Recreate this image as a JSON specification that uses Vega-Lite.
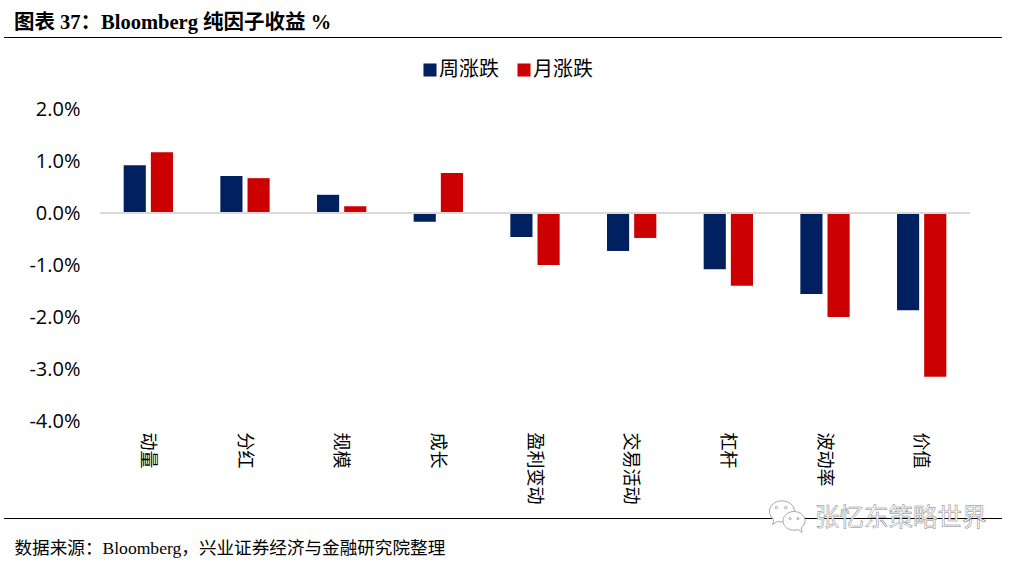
{
  "$schema": "https://vega.github.io/schema/vega-lite/v6.json",
  "description": "Bloomberg pure factor returns, weekly and monthly",
  "autosize": "none",
  "padding": {"left": 100, "top": 109, "right": 52, "bottom": 141},
  "width": 870,
  "height": 312,
  "background": "white",
  "title": {
    "text": "图表 37：Bloomberg 纯因子收益  %",
    "anchor": "start",
    "frame": "group",
    "dx": -86,
    "offset": -12,
    "baseline": "alphabetic",
    "font": "Liberation Serif, Noto Sans CJK SC",
    "fontSize": 20.5,
    "fontWeight": "bold",
    "color": "black"
  },
  "data": {
    "values": [
      {"factor": "动量", "series": "周涨跌", "ret": 0.92},
      {"factor": "动量", "series": "月涨跌", "ret": 1.17},
      {"factor": "分红", "series": "周涨跌", "ret": 0.71},
      {"factor": "分红", "series": "月涨跌", "ret": 0.67},
      {"factor": "规模", "series": "周涨跌", "ret": 0.35},
      {"factor": "规模", "series": "月涨跌", "ret": 0.13},
      {"factor": "成长", "series": "周涨跌", "ret": -0.17},
      {"factor": "成长", "series": "月涨跌", "ret": 0.77},
      {"factor": "盈利变动", "series": "周涨跌", "ret": -0.46},
      {"factor": "盈利变动", "series": "月涨跌", "ret": -1.0},
      {"factor": "交易活动", "series": "周涨跌", "ret": -0.73},
      {"factor": "交易活动", "series": "月涨跌", "ret": -0.48},
      {"factor": "杠杆", "series": "周涨跌", "ret": -1.08},
      {"factor": "杠杆", "series": "月涨跌", "ret": -1.4},
      {"factor": "波动率", "series": "周涨跌", "ret": -1.56},
      {"factor": "波动率", "series": "月涨跌", "ret": -2.0},
      {"factor": "价值", "series": "周涨跌", "ret": -1.87},
      {"factor": "价值", "series": "月涨跌", "ret": -3.15}
    ]
  },
  "layer": [
    {
      "mark": {"type": "bar"},
      "encoding": {
        "x": {
          "field": "factor",
          "type": "nominal",
          "sort": null,
          "scale": {"paddingInner": 0.49, "paddingOuter": 0.245},
          "axis": {
            "orient": "bottom",
            "title": "数据来源：Bloomberg，兴业证券经济与金融研究院整理",
            "titleX": -86,
            "titleY": 132,
            "titleAlign": "left",
            "titleBaseline": "alphabetic",
            "titleFont": "Liberation Serif, Noto Sans CJK SC",
            "titleFontSize": 17.6,
            "titleFontWeight": "normal",
            "titleColor": "black",
            "labelAngle": 90,
            "labelAlign": "left",
            "labelBaseline": "middle",
            "labelPadding": 11,
            "labelOffset": -1.5,
            "labelFont": "Noto Sans CJK SC",
            "labelFontSize": 18,
            "labelColor": "black",
            "domain": false,
            "ticks": false
          }
        },
        "xOffset": {
          "field": "series",
          "type": "nominal",
          "scale": {"domain": ["周涨跌", "月涨跌"], "paddingInner": 0.185}
        },
        "y": {
          "field": "ret",
          "type": "quantitative",
          "scale": {"domain": [-4, 2], "nice": false},
          "axis": {
            "title": null,
            "values": [2, 1, 0, -1, -2, -3, -4],
            "labelExpr": "(datum.value < 0 ? '-' : '') + format(abs(datum.value), '.1f') + '%'",
            "labelFont": "Open Sans",
            "labelFontSize": 20,
            "labelColor": "black",
            "labelPadding": 20,
            "domain": false,
            "ticks": false,
            "grid": false
          }
        },
        "color": {
          "field": "series",
          "type": "nominal",
          "scale": {"domain": ["周涨跌", "月涨跌"], "range": ["#002060", "#cc0000"]},
          "legend": {
            "title": null,
            "orient": "none",
            "direction": "horizontal",
            "legendX": 320,
            "legendY": -49,
            "symbolType": "square",
            "symbolSize": 170,
            "symbolStrokeWidth": 0,
            "labelFont": "Noto Sans CJK SC",
            "labelFontSize": 20,
            "labelColor": "black",
            "labelOffset": -1,
            "columnPadding": 15
          }
        }
      }
    },
    {
      "mark": {"type": "rule", "color": "#d9d9d9", "strokeWidth": 1},
      "encoding": {"y": {"datum": 0}}
    },
    {
      "data": {"values": [{"pos": 3.375}, {"pos": -5.875}]},
      "mark": {"type": "rule", "color": "black", "strokeWidth": 1},
      "encoding": {
        "y": {"field": "pos", "type": "quantitative"},
        "x": {"value": -96},
        "x2": {"value": 902}
      }
    },
    {
      "data": {"values": [{"pos": -5.75}]},
      "mark": {
        "type": "point",
        "shape": "M-1,-0.05 A1,0.85 0 1 1 -0.35,0.75 L-0.75,1 L-0.65,0.6 A1,0.85 0 0 1 -1,-0.05 Z M-0.55,-0.35 a0.1,0.1 0 1 0 0.2,0 a0.1,0.1 0 1 0 -0.2,0 Z M0.2,-0.35 a0.1,0.1 0 1 0 0.2,0 a0.1,0.1 0 1 0 -0.2,0 Z",
        "size": 625,
        "filled": false,
        "stroke": "#a6a6a6",
        "strokeWidth": 1,
        "fill": "white",
        "opacity": 1
      },
      "encoding": {
        "y": {"field": "pos", "type": "quantitative"},
        "x": {"value": 682}
      }
    },
    {
      "data": {"values": [{"pos": -5.93}]},
      "mark": {
        "type": "point",
        "shape": "M1,-0.05 A1,0.85 0 1 0 0.35,0.75 L0.75,1 L0.65,0.6 A1,0.85 0 0 0 1,-0.05 Z M-0.45,-0.25 a0.1,0.1 0 1 0 0.2,0 a0.1,0.1 0 1 0 -0.2,0 Z M0.25,-0.25 a0.1,0.1 0 1 0 0.2,0 a0.1,0.1 0 1 0 -0.2,0 Z",
        "size": 484,
        "filled": false,
        "stroke": "#a6a6a6",
        "strokeWidth": 1,
        "fill": "white",
        "opacity": 1
      },
      "encoding": {
        "y": {"field": "pos", "type": "quantitative"},
        "x": {"value": 694}
      }
    },
    {
      "data": {"values": [{"label": "张忆东策略世界", "pos": -5.89}]},
      "mark": {
        "type": "text",
        "align": "left",
        "baseline": "middle",
        "font": "Noto Sans CJK SC",
        "fontSize": 24.5,
        "fill": "white",
        "stroke": "#808080",
        "strokeWidth": 0.5
      },
      "encoding": {
        "y": {"field": "pos", "type": "quantitative"},
        "x": {"value": 715},
        "text": {"field": "label"}
      }
    }
  ],
  "config": {"view": {"stroke": null}}
}
